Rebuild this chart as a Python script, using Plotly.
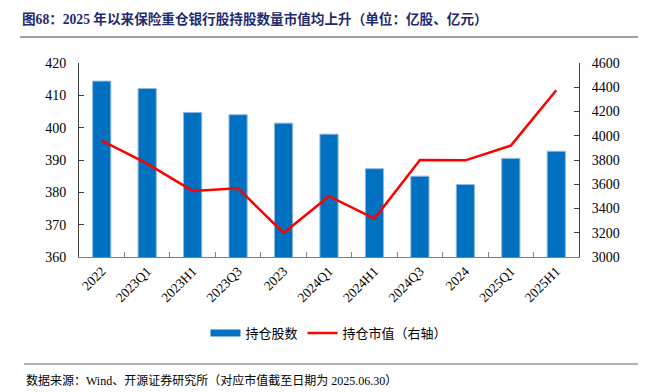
import plotly.graph_objects as go

categories = ["2022", "2023Q1", "2023H1", "2023Q3", "2023", "2024Q1",
              "2024H1", "2024Q3", "2024", "2025Q1", "2025H1"]
shares = [414.4, 412.1, 404.7, 404.0, 401.4, 398.0, 387.3, 385.0, 382.4, 390.5, 392.7]
market_value = [3960, 3770, 3545, 3567, 3198, 3501, 3317, 3800, 3797, 3919, 4375]

FONT = "Liberation Serif, Noto Sans CJK SC, serif"

# The page body has an 8px margin; lay out in window pixels and offset.
OFF = 8
W, H = 646 - OFF, 392 - OFF
L, R, T, B = 79 - OFF, 579 - OFF, 63 - OFF, 257 - OFF

def px(x):
    return (x - OFF - L) / (R - L)

def py(y):
    return (B - (y - OFF)) / (B - T)

fig = go.Figure()
fig.add_trace(go.Bar(
    x=categories, y=shares, name="持仓股数",
    marker=dict(color="#0070C0", line=dict(color="#8FB8E0", width=1)),
    yaxis="y", showlegend=False,
))
# legend-only entry drawn as a thick blue bar swatch
fig.add_trace(go.Scatter(
    x=[None], y=[None], name="持仓股数", mode="lines",
    line=dict(color="#0070C0", width=7), yaxis="y",
))
fig.add_trace(go.Scatter(
    x=categories, y=market_value, name="持仓市值（右轴）",
    mode="lines", line=dict(color="#FF0000", width=2.5),
    yaxis="y2",
))

fig.update_layout(
    width=W, height=H,
    margin=dict(l=L, r=W - R, t=T, b=H - B),
    paper_bgcolor="white", plot_bgcolor="white",
    font=dict(family=FONT, size=13, color="#000000"),
    bargap=0.6,
    showlegend=True,
    legend=dict(orientation="h", x=0.5, xanchor="center", y=py(333), yanchor="middle",
                font=dict(family="Noto Sans CJK SC", size=13), itemwidth=30,
                traceorder="normal"),
    xaxis=dict(
        type="category", tickangle=-45, showgrid=False,
        showline=True, linecolor="#808080", linewidth=1,
        ticks="inside", tickson="boundaries", ticklen=5, tickcolor="#808080",
        tickfont=dict(family=FONT, size=13.5),
    ),
    yaxis=dict(
        range=[360, 420], dtick=10, showgrid=False,
        showline=True, linecolor="#404040", linewidth=1,
        ticks="inside", ticklen=5, tickcolor="#404040",
        tickfont=dict(family=FONT, size=14), ticklabelstandoff=9,
        zeroline=False,
    ),
    yaxis2=dict(
        range=[3000, 4600], dtick=200, overlaying="y", side="right",
        showgrid=False, showline=True, linecolor="#404040", linewidth=1,
        ticks="inside", ticklen=5, tickcolor="#404040",
        tickfont=dict(family=FONT, size=14), ticklabelstandoff=9,
        zeroline=False,
    ),
)

fig.add_annotation(
    text="<b>图68：2025 年以来保险重仓银行股持股数量市值均上升（单位：亿股、亿元）</b>",
    xref="paper", yref="paper", x=px(20), y=py(19), xanchor="left", yanchor="middle",
    showarrow=False, font=dict(family="Liberation Serif, Noto Sans CJK SC", size=13.6, color="#1F2A6E"),
)
fig.add_annotation(
    text="数据来源：Wind、开源证券研究所（对应市值截至日期为 2025.06.30）",
    xref="paper", yref="paper", x=px(24), y=py(380), xanchor="left", yanchor="middle",
    showarrow=False, font=dict(family="Liberation Serif, Noto Sans CJK SC", size=12, color="#000000"),
)
fig.add_shape(type="line", xref="paper", yref="paper",
              x0=px(20), x1=px(646), y0=py(37), y1=py(37),
              line=dict(color="#808080", width=1.5))
fig.add_shape(type="line", xref="paper", yref="paper",
              x0=px(24), x1=px(646), y0=py(364), y1=py(364),
              line=dict(color="#606060", width=1))

fig.write_html("out.html")
